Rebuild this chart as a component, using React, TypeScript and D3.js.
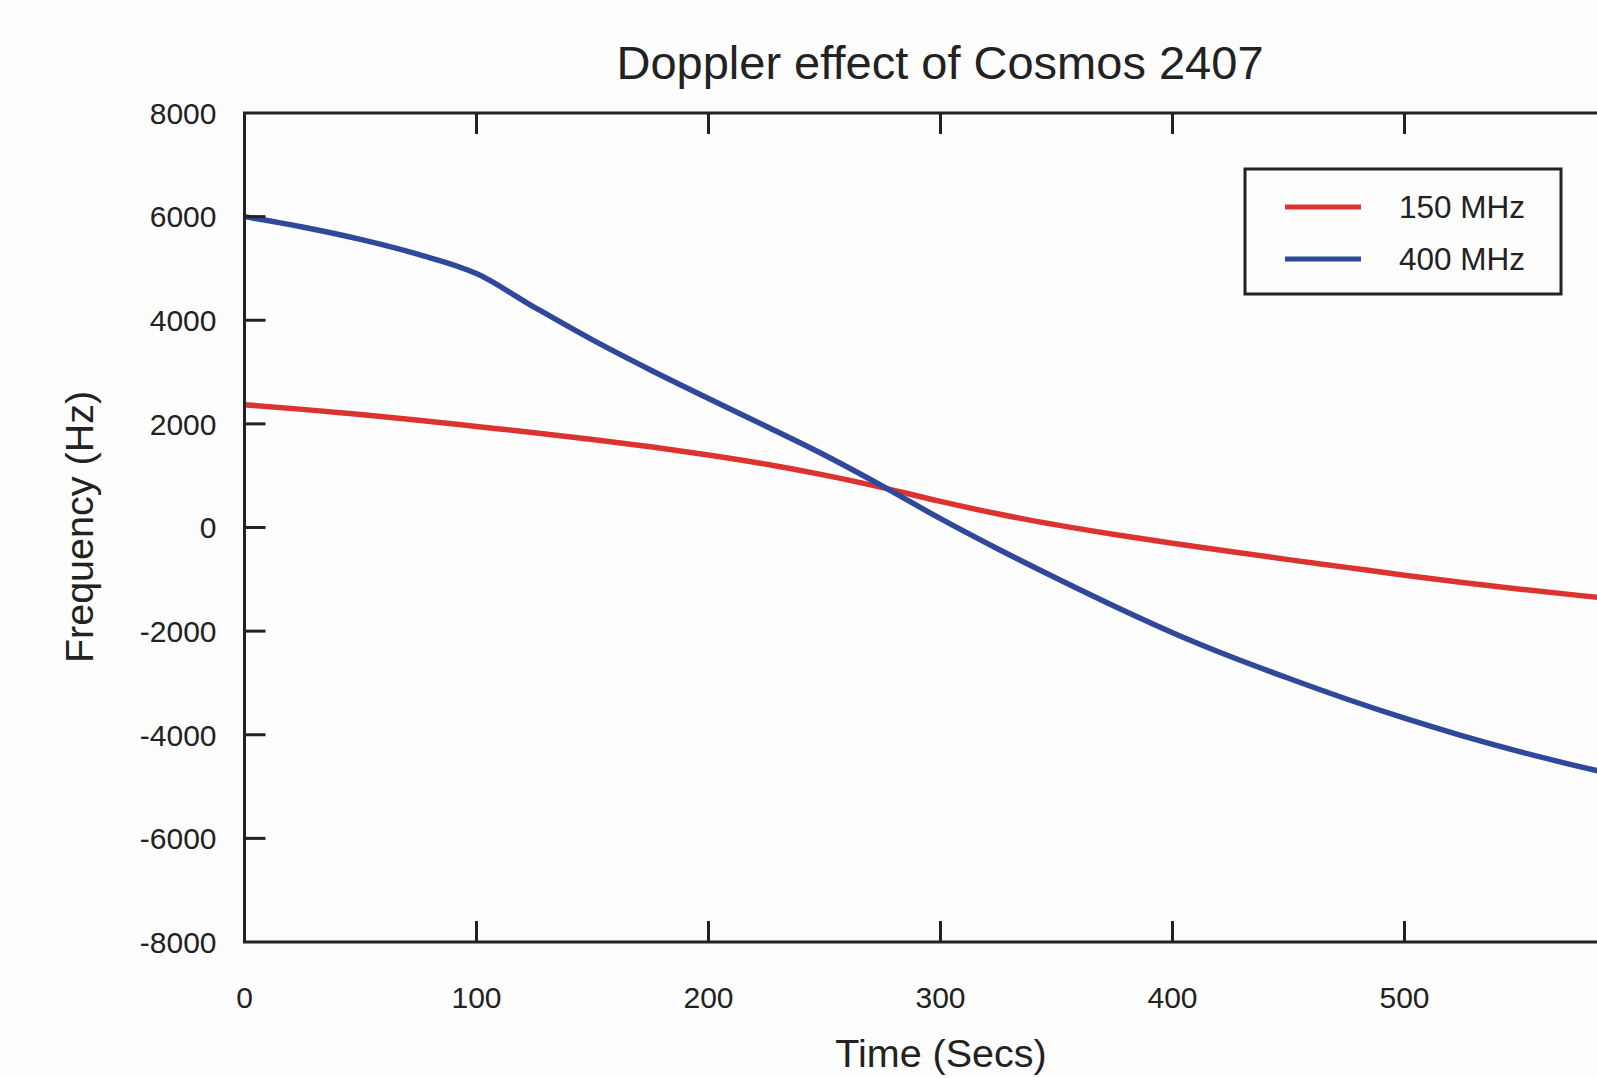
import { useEffect, useRef } from 'react';
import * as d3 from 'd3';

// time in seconds
const times = [0, 25, 50, 75, 100, 125, 150, 175, 200, 225, 250, 275, 300, 325, 350, 375, 400, 425, 450, 475, 500, 525, 550, 575, 600];
// doppler shift, Hz
const freq150 = [2370, 2280, 2180, 2070, 1950, 1830, 1700, 1560, 1400, 1220, 1010, 770, 505, 260, 50, -135, -305, -465, -620, -770, -920, -1060, -1190, -1310, -1420];
const freq400 = [6000, 5800, 5560, 5270, 4900, 4250, 3620, 3040, 2490, 1950, 1400, 800, 170, -420, -980, -1520, -2030, -2490, -2910, -3310, -3680, -4020, -4330, -4610, -4870];

const seriesNames = ['150 MHz', '400 MHz'];
const xTicks = [0, 100, 200, 300, 400, 500, 600];
const xTickLabels = ['0', '100', '200', '300', '400', '500'];
const yTicks = [-8000, -6000, -4000, -2000, 0, 2000, 4000, 6000, 8000];

const App = () => {
  const svgRef = useRef<SVGSVGElement>(null);

  useEffect(() => {
    const width = 1597;
    const height = 1078;
    const left = 244.5, top = 113, bottom = 942;
    const plotRight = left + 6 * 232;
    const font = '"Liberation Sans", Arial, sans-serif';
    const ink = '#222';
    const colors = ['#dd3330', '#2f4899'];

    const x = d3.scaleLinear().domain([0, 600]).range([left, plotRight]);
    const y = d3.scaleLinear().domain([-8000, 8000]).range([bottom, top]);

    const svg = d3.select(svgRef.current);
    svg.selectAll('*').remove();
    svg.attr('width', width).attr('height', height);

    svg.append('rect').attr('width', width).attr('height', height).attr('fill', '#fdfdfd');

    // curves
    const line = d3.line<[number, number]>()
      .x(d => x(d[0]))
      .y(d => y(d[1]))
      .curve(d3.curveMonotoneX);

    [freq150, freq400].forEach((vals, i) => {
      svg.append('path')
        .datum(times.map((t, j) => [t, vals[j]] as [number, number]))
        .attr('fill', 'none')
        .attr('stroke', colors[i])
        .attr('stroke-width', 5.5)
        .attr('d', line);
    });

    // frame
    const frame = svg.append('g').attr('stroke', ink).attr('stroke-width', 3).attr('fill', 'none');
    frame.append('path').attr('d', `M${left},${top}H${plotRight}V${bottom}H${left}Z`);

    const tickLen = 21;
    xTicks.slice(1).forEach(t => {
      frame.append('line').attr('x1', x(t)).attr('x2', x(t)).attr('y1', bottom).attr('y2', bottom - tickLen);
      frame.append('line').attr('x1', x(t)).attr('x2', x(t)).attr('y1', top).attr('y2', top + tickLen);
    });
    yTicks.slice(1, -1).forEach(t => {
      frame.append('line').attr('x1', left).attr('x2', left + tickLen).attr('y1', y(t)).attr('y2', y(t));
    });

    // tick labels
    svg.append('g')
      .attr('font-family', font).attr('font-size', 30).attr('fill', ink).attr('text-anchor', 'end')
      .selectAll('text')
      .data(yTicks)
      .join('text')
      .attr('x', left - 28)
      .attr('y', d => y(d))
      .attr('dy', '0.36em')
      .text(d => d);

    svg.append('g')
      .attr('font-family', font).attr('font-size', 30).attr('fill', ink).attr('text-anchor', 'middle')
      .selectAll('text')
      .data(xTickLabels)
      .join('text')
      .attr('x', d => x(+d))
      .attr('y', 1008)
      .text(d => d);

    // titles
    svg.append('text')
      .attr('x', 940).attr('y', 79)
      .attr('font-family', font).attr('font-size', 47).attr('fill', ink).attr('text-anchor', 'middle')
      .text('Doppler effect of Cosmos 2407');

    svg.append('text')
      .attr('x', 941).attr('y', 1067)
      .attr('font-family', font).attr('font-size', 39.5).attr('fill', ink).attr('text-anchor', 'middle')
      .text('Time (Secs)');

    svg.append('text')
      .attr('transform', 'translate(93,527) rotate(-90)')
      .attr('font-family', font).attr('font-size', 39.5).attr('fill', ink).attr('text-anchor', 'middle')
      .text('Frequency (Hz)');

    // legend
    const lg = svg.append('g');
    lg.append('rect')
      .attr('x', 1245).attr('y', 169).attr('width', 316).attr('height', 125)
      .attr('fill', 'none').attr('stroke', ink).attr('stroke-width', 3);
    seriesNames.forEach((name, i) => {
      const ly = 207 + i * 52;
      lg.append('line')
        .attr('x1', 1285).attr('x2', 1361).attr('y1', ly).attr('y2', ly)
        .attr('stroke', colors[i]).attr('stroke-width', 5);
      lg.append('text')
        .attr('x', 1399).attr('y', ly).attr('dy', '0.36em')
        .attr('font-family', font).attr('font-size', 31.5).attr('fill', ink)
        .text(name);
    });
  }, []);

  return <svg ref={svgRef} style={{ position: 'absolute', left: 0, top: 0, display: 'block' }}></svg>;
};

export default App;
